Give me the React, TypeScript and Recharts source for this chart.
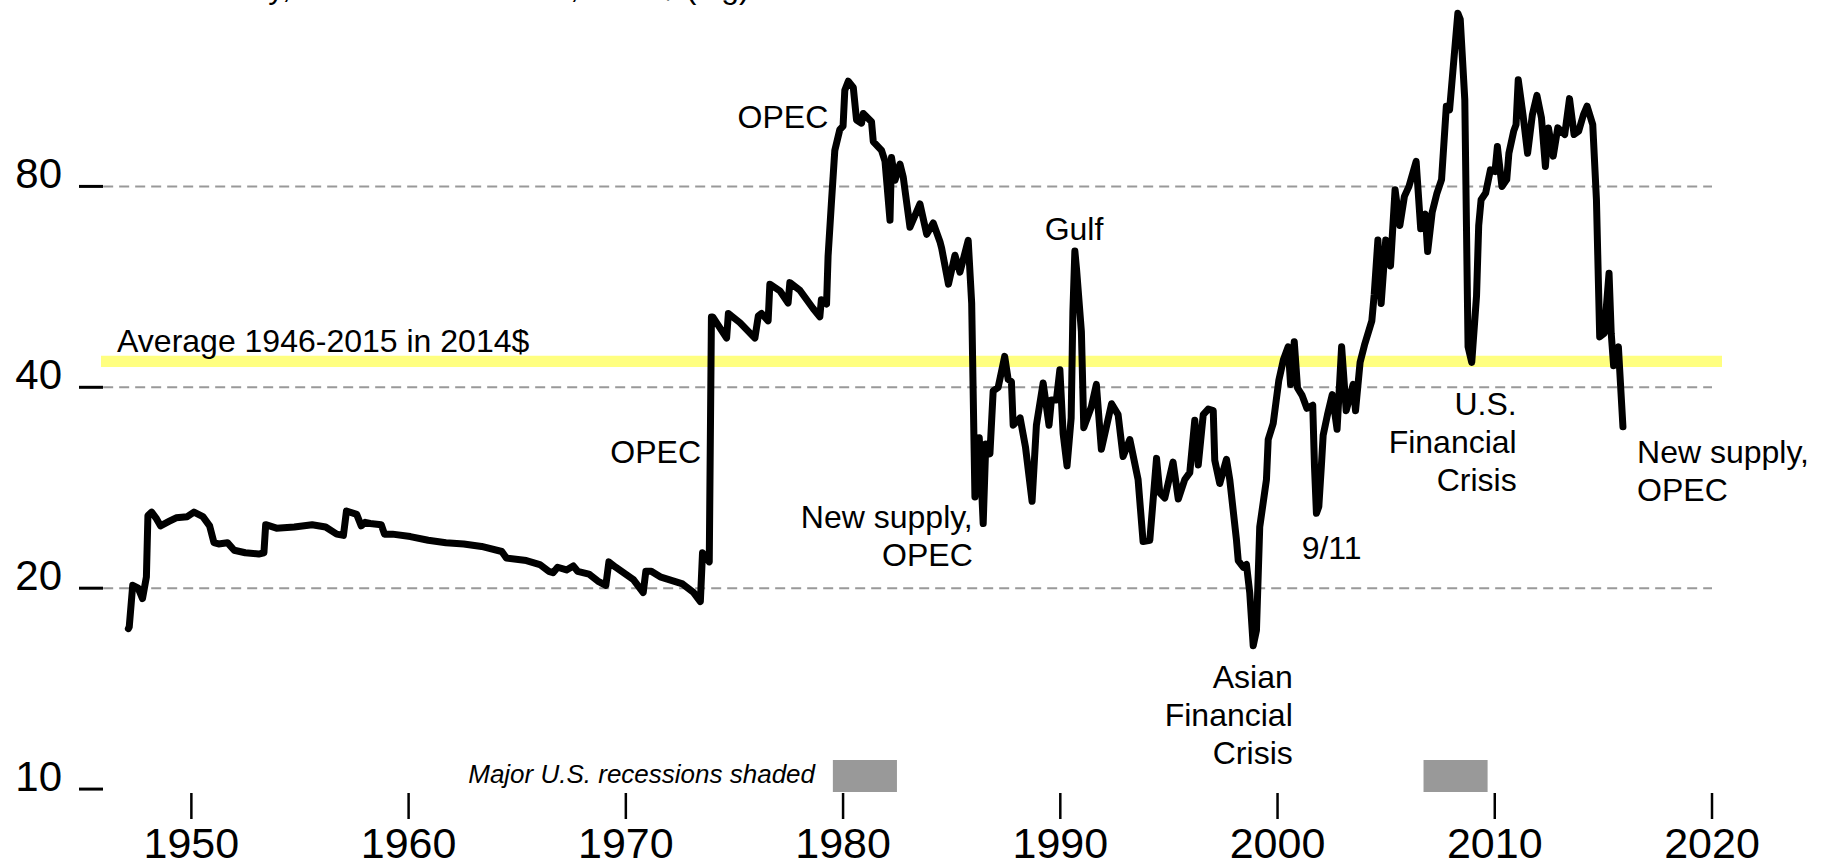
import React from "react";
import {
  Line,
  LineChart,
  ReferenceArea,
  ReferenceDot,
  ReferenceLine,
  XAxis,
  YAxis,
} from "recharts";

const FONT = '"Liberation Sans", Arial, Helvetica, sans-serif';

// Oil price in 2014 dollars, [year, price]
const postwar: [number, number][] = [
  [1947.1, 17.4], [1947.14, 17.5], [1947.3, 20.2], [1947.55, 20.0], [1947.75, 19.3],
  [1947.93, 20.8], [1948.0, 25.7], [1948.17, 26.0], [1948.4, 25.4], [1948.58, 24.8],
  [1948.99, 25.2], [1949.3, 25.5], [1949.81, 25.6], [1950.12, 26.0], [1950.53, 25.6],
  [1950.84, 24.8], [1951.04, 23.4], [1951.25, 23.3], [1951.66, 23.4], [1951.97, 22.8],
  [1952.48, 22.6], [1953.1, 22.5], [1953.34, 22.6], [1953.42, 24.9], [1953.92, 24.6],
  [1954.74, 24.7], [1955.56, 24.9], [1956.18, 24.7], [1956.69, 24.1], [1957.0, 24.0],
  [1957.14, 26.1], [1957.61, 25.8], [1957.82, 24.8], [1958.0, 25.1], [1958.23, 25.0],
  [1958.74, 24.9], [1958.89, 24.1], [1959.26, 24.1], [1960.08, 23.9], [1960.9, 23.6],
  [1961.72, 23.4], [1962.54, 23.3], [1963.36, 23.1], [1964.29, 22.7], [1964.5, 22.2],
  [1965.42, 22.0], [1966.04, 21.7], [1966.45, 21.2], [1966.65, 21.1], [1966.86, 21.5],
  [1967.27, 21.3], [1967.58, 21.6], [1967.78, 21.2], [1968.3, 21.0], [1968.71, 20.5],
  [1969.08, 20.2], [1969.22, 21.9], [1969.53, 21.5], [1970.35, 20.6], [1970.8, 19.7],
  [1970.92, 21.2], [1971.17, 21.2], [1971.58, 20.8], [1972.61, 20.3], [1973.12, 19.7],
  [1973.43, 19.1], [1973.53, 22.6], [1973.84, 21.9], [1973.94, 51.0],
];

const opecEra: [number, number][] = [
  [1974.0, 51.0], [1974.64, 47.4], [1974.72, 51.6], [1975.25, 50.0], [1975.94, 47.4],
  [1976.1, 51.2], [1976.25, 51.6], [1976.55, 50.3], [1976.63, 57.1], [1977.09, 55.8],
  [1977.47, 53.5], [1977.55, 57.4], [1978.01, 55.9], [1978.62, 52.5], [1978.93, 51.0],
  [1979.0, 54.1], [1979.24, 53.3], [1979.31, 62.9], [1979.46, 75.3], [1979.62, 90.6],
  [1979.85, 97.3], [1980.0, 98.5], [1980.08, 111.5], [1980.24, 115.0], [1980.47, 112.6],
  [1980.62, 100.6], [1980.85, 99.5], [1980.93, 102.9], [1981.31, 100.0], [1981.39, 93.4],
  [1981.77, 90.6], [1981.93, 87.3], [1982.16, 71.2], [1982.23, 88.4], [1982.39, 81.7],
  [1982.62, 86.4], [1982.77, 82.6], [1983.08, 69.5], [1983.54, 75.3], [1983.85, 67.8],
  [1984.15, 70.5], [1984.46, 66.1], [1984.54, 64.6], [1984.85, 57.1], [1985.15, 63.1],
  [1985.38, 59.5], [1985.76, 66.4], [1985.92, 53.5],
];

const glutEra: [number, number][] = [
  [1986.07, 27.4], [1986.27, 33.6], [1986.45, 25.0], [1986.57, 32.9], [1986.76, 31.8],
  [1986.91, 39.5], [1987.14, 40.0], [1987.44, 44.5], [1987.6, 41.1], [1987.75, 40.8],
  [1987.83, 35.1], [1988.15, 36.0], [1988.4, 32.5], [1988.7, 27.0], [1988.9, 35.1],
  [1989.21, 40.6], [1989.48, 35.1], [1989.59, 38.3], [1989.82, 38.3], [1989.98, 42.5],
  [1990.13, 34.1], [1990.31, 30.5], [1990.5, 36.0], [1990.58, 52.0], [1990.67, 64.0],
  [1990.75, 60.0], [1990.97, 48.5], [1991.08, 34.8], [1991.43, 37.4], [1991.66, 40.4],
  [1991.89, 32.3], [1992.36, 37.8], [1992.66, 36.4], [1992.89, 31.5], [1993.2, 33.4],
  [1993.58, 29.1], [1993.81, 23.5], [1994.12, 23.6], [1994.43, 31.3], [1994.58, 27.8],
  [1994.81, 27.3], [1995.19, 30.9], [1995.43, 27.2], [1995.73, 29.1], [1995.96, 29.8],
  [1996.19, 35.7], [1996.35, 30.6], [1996.58, 36.4], [1996.81, 37.1], [1997.04, 36.9],
  [1997.11, 31.1], [1997.34, 28.7], [1997.65, 31.2], [1997.8, 29.1], [1998.11, 23.6],
  [1998.19, 22.0], [1998.42, 21.5], [1998.57, 21.7], [1998.72, 19.7], [1998.88, 16.4],
  [1999.03, 17.3], [1999.18, 24.7], [1999.49, 29.1], [1999.57, 33.4], [1999.8, 35.3],
];

const boomEra: [number, number][] = [
  [2000.06, 41.0], [2000.27, 44.0], [2000.49, 46.0], [2000.6, 40.4], [2000.77, 46.8],
  [2000.92, 39.9], [2001.13, 38.9], [2001.35, 37.2], [2001.62, 37.6], [2001.7, 30.5],
  [2001.79, 25.9], [2001.9, 26.5], [2002.02, 30.6], [2002.1, 33.9], [2002.3, 36.4],
  [2002.52, 39.0], [2002.74, 34.6], [2002.95, 46.0], [2003.16, 36.9], [2003.48, 40.4],
  [2003.59, 36.9], [2003.8, 43.6], [2004.02, 46.5], [2004.34, 50.3], [2004.45, 55.1],
  [2004.62, 66.5], [2004.77, 53.4], [2004.98, 66.5], [2005.2, 60.8], [2005.41, 79.1],
  [2005.63, 69.9], [2005.84, 77.3], [2006.05, 80.0], [2006.38, 87.2], [2006.59, 69.1],
  [2006.8, 72.7], [2006.91, 63.9], [2007.12, 73.2], [2007.34, 78.2], [2007.55, 81.9],
  [2007.77, 105.5], [2007.92, 104.2], [2008.09, 121.0], [2008.3, 145.4], [2008.41, 142.4],
  [2008.62, 107.9], [2008.77, 46.0], [2008.94, 43.6], [2009.16, 54.8], [2009.26, 69.9],
  [2009.37, 76.4], [2009.58, 78.2], [2009.8, 84.7], [2010.01, 84.2], [2010.12, 91.8],
  [2010.33, 80.0], [2010.55, 81.9], [2010.65, 89.7], [2010.87, 96.8], [2010.98, 99.0],
  [2011.08, 115.6], [2011.3, 102.4], [2011.51, 89.7], [2011.73, 102.4], [2011.94, 109.5],
  [2012.15, 101.3], [2012.33, 85.7], [2012.47, 97.9], [2012.69, 88.8], [2012.9, 97.9],
  [2013.22, 95.7], [2013.44, 108.3], [2013.65, 95.7], [2013.86, 96.8], [2014.08, 102.4],
  [2014.25, 105.5], [2014.51, 99.0], [2014.68, 76.4], [2014.83, 47.6], [2015.04, 48.2],
  [2015.26, 59.3], [2015.36, 48.2], [2015.47, 43.1], [2015.69, 46.0], [2015.9, 34.9],
];

const yearTicks = [1950, 1960, 1970, 1980, 1990, 2000, 2010, 2020];
const priceTicks = [10, 20, 40, 80];
const gridLevels = [20, 40, 80];
const averageBand = [42.9, 44.6];
const recessions: [number, number][] = [
  [1979.53, 1982.48],
  [2006.72, 2009.67],
];

type Note = {
  year: number;
  price: number;
  lines: string[];
  anchor: "start" | "middle" | "end";
  italic?: boolean;
  size?: number;
};

// label anchors (baseline of the first line) in data coordinates
const notes: Note[] = [
  { year: 1949.12, price: 153.3, lines: ["Monthly, in real 2014 dollars, 2014$ (log)"], anchor: "start" },
  { year: 1946.58, price: 45.2, lines: ["Average 1946-2015 in 2014$"], anchor: "start" },
  { year: 1973.46, price: 30.8, lines: ["OPEC"], anchor: "end" },
  { year: 1979.32, price: 97.8, lines: ["OPEC"], anchor: "end" },
  { year: 1990.63, price: 66.5, lines: ["Gulf"], anchor: "middle" },
  { year: 1985.97, price: 24.6, lines: ["New supply,", "OPEC"], anchor: "end" },
  { year: 2000.7, price: 14.15, lines: ["Asian", "Financial", "Crisis"], anchor: "end" },
  { year: 2001.11, price: 22.1, lines: ["9/11"], anchor: "start" },
  { year: 2011.01, price: 36.4, lines: ["U.S.", "Financial", "Crisis"], anchor: "end" },
  { year: 2016.55, price: 30.8, lines: ["New supply,", "OPEC"], anchor: "start" },
  { year: 1978.71, price: 10.21, lines: ["Major U.S. recessions shaded"], anchor: "end", italic: true, size: 26 },
];

const data = [...postwar, ...opecEra, ...glutEra, ...boomEra].map(
  ([year, price]) => ({ year, price }),
);

function NoteLabel(props: any) {
  const { viewBox, lines, anchor, italic, size } = props;
  const x = viewBox?.x ?? 0;
  const y = viewBox?.y ?? 0;
  return (
    <text
      x={x}
      y={y}
      textAnchor={anchor}
      fontFamily={FONT}
      fontSize={size ?? 32}
      fontStyle={italic ? "italic" : "normal"}
      fill="#000"
    >
      {lines.map((line: string, i: number) => (
        <tspan key={i} x={x} dy={i === 0 ? 0 : 38}>
          {line}
        </tspan>
      ))}
    </text>
  );
}

function PriceTick(props: any) {
  const { x, y, payload } = props;
  return (
    <g>
      <text x={x - 39} y={y + 2} textAnchor="end" fontFamily={FONT} fontSize={42} fill="#000">
        {payload.value}
      </text>
      <line x1={x - 22} x2={x + 2} y1={y} y2={y} stroke="#000" strokeWidth={3} />
    </g>
  );
}

function YearTick(props: any) {
  const { x, y, payload } = props;
  return (
    <g>
      <line x1={x} x2={x} y1={y + 1} y2={y + 27} stroke="#000" strokeWidth={2.5} />
      <text x={x} y={y + 66} textAnchor="middle" fontFamily={FONT} fontSize={43} fill="#000">
        {payload.value}
      </text>
    </g>
  );
}

export default function App() {
  return (
    <div style={{ position: "absolute", left: 0, top: 0, background: "#fff" }}>
      <LineChart
        width={1829}
        height={866}
        data={data}
        margin={{ top: 0, right: 107, bottom: 0, left: 0 }}
      >
        <XAxis
          type="number"
          dataKey="year"
          domain={[1945.84, 2020.46]}
          ticks={yearTicks}
          interval={0}
          allowDataOverflow
          axisLine={false}
          tickLine={false}
          tickSize={0}
          tickMargin={0}
          height={74}
          tick={<YearTick />}
        />
        <YAxis
          type="number"
          scale="log"
          domain={[9.9, 152.2]}
          ticks={priceTicks}
          interval={0}
          allowDataOverflow
          axisLine={false}
          tickLine={false}
          tickSize={0}
          tickMargin={0}
          width={101}
          tick={<PriceTick />}
        />
        <ReferenceArea
          y1={averageBand[0]}
          y2={averageBand[1]}
          fill="#ffff80"
          fillOpacity={1}
          stroke="none"
        />
        {gridLevels.map((g) => (
          <ReferenceLine
            key={g}
            segment={[
              { x: 1945.94, y: g },
              { x: 2020, y: g },
            ]}
            stroke="#999"
            strokeWidth={2}
            strokeDasharray="10 6"
          />
        ))}
        {recessions.map(([a, b]) => (
          <ReferenceArea
            key={a}
            x1={a}
            x2={b}
            y1={9.9}
            y2={11.06}
            fill="#999"
            fillOpacity={1}
            stroke="none"
          />
        ))}
        <Line
          type="linear"
          dataKey="price"
          stroke="#000"
          strokeWidth={7}
          strokeLinejoin="round"
          strokeLinecap="round"
          dot={false}
          activeDot={false}
          isAnimationActive={false}
        />
        {notes.map((n, i) => (
          <ReferenceDot
            key={i}
            x={n.year}
            y={n.price}
            r={0}
            fill="none"
            stroke="none"
            ifOverflow="visible"
            label={<NoteLabel lines={n.lines} anchor={n.anchor} italic={n.italic} size={n.size} />}
          />
        ))}
      </LineChart>
    </div>
  );
}
